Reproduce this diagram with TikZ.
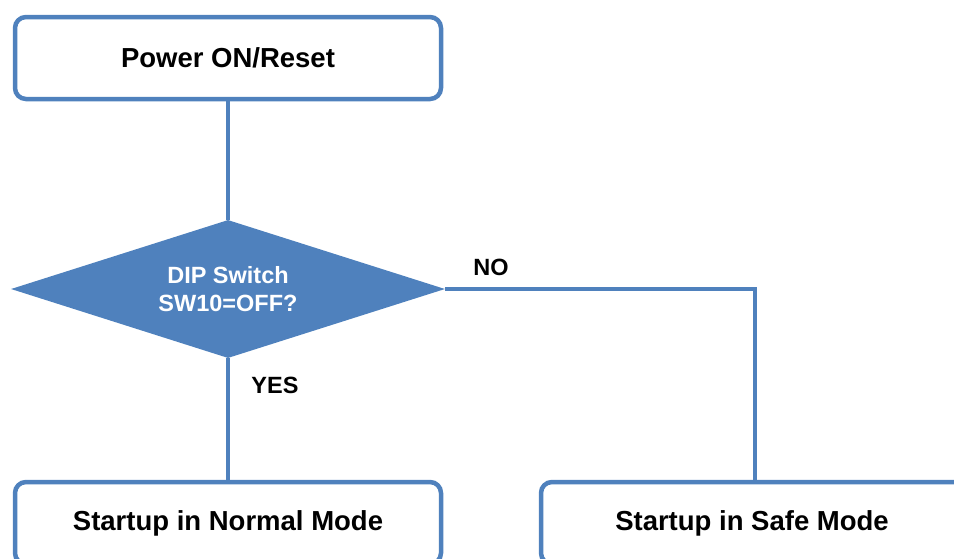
\documentclass[tikz,border=0pt]{standalone}
\usepackage{fontspec}
\setmainfont{Liberation Sans}
\usetikzlibrary{shapes.geometric}
\definecolor{flowblue}{HTML}{4F81BD}
\begin{document}
\begin{tikzpicture}[x=1pt,y=-1pt,
  procbox/.style={draw=flowblue, line width=4.5pt, rounded corners=11pt, fill=white,
    minimum width=426pt, minimum height=82pt, inner sep=0pt,
    font=\fontsize{27.5}{33}\selectfont\bfseries},
  decbox/.style={diamond, fill=flowblue, aspect=3.14, inner sep=0pt,
    minimum width=434pt, minimum height=138pt, text=white, align=center,
    font=\fontsize{23.5}{28}\selectfont\bfseries},
  conn/.style={draw=flowblue, line width=3.5pt},
  lbl/.style={font=\fontsize{23.5}{28}\selectfont\bfseries, inner sep=0pt}]
\useasboundingbox (0,0) rectangle (954,558);
\clip (0,0) rectangle (954,558);
\node[procbox] (power) at (228,58) {Power ON/Reset};
\node[decbox] (dip) at (228,289) {DIP Switch\\SW10=OFF?};
\node[procbox] (normal) at (228,523) {Startup in Normal Mode};
\node[procbox, minimum width=428pt] (safe) at (755,523) {\hspace*{-6pt}Startup in Safe Mode};
\draw[conn] (power.south) -- (dip.north);
\draw[conn] (dip.south) -- (normal.north);
\draw[conn] (dip.east) -| (safe.north);
\node[lbl] (no) at (491,267) {NO};
\node[lbl] (yes) at (275,385) {YES};
\end{tikzpicture}
\end{document}
